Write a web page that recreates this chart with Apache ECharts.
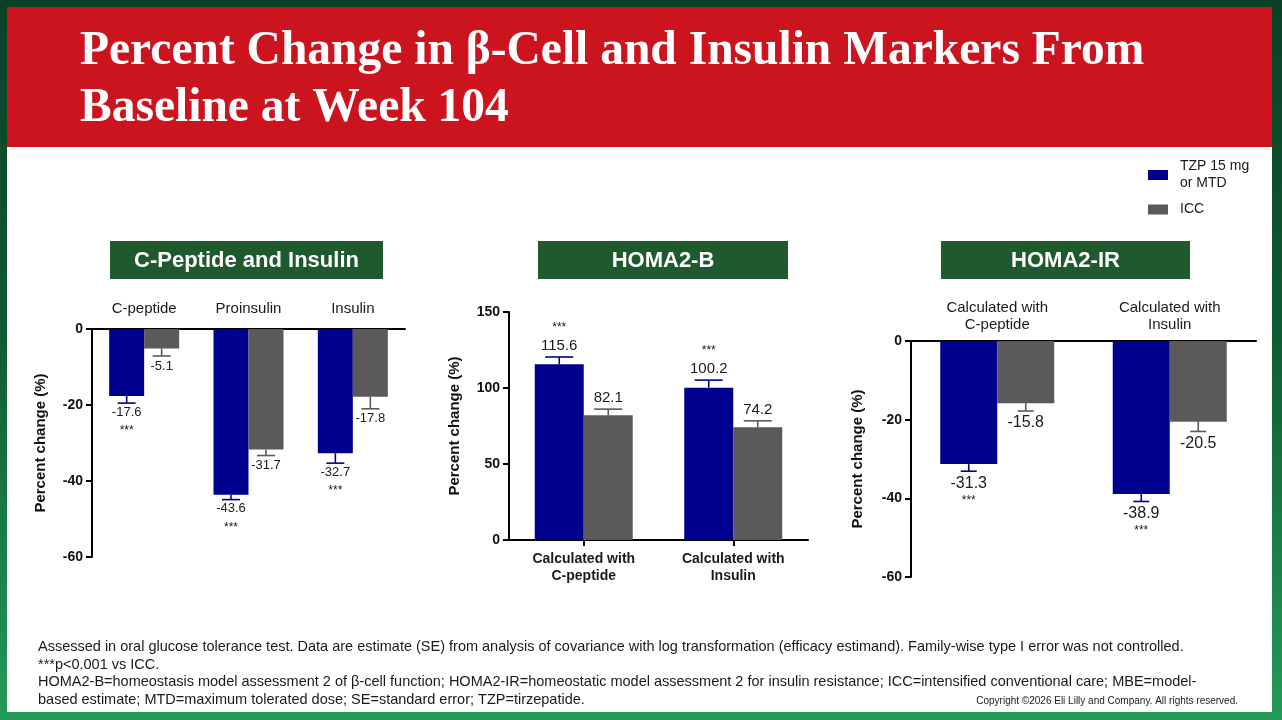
<!DOCTYPE html>
<html>
<head>
<meta charset="utf-8">
<script src="https://cdn.jsdelivr.net/npm/echarts@6/dist/echarts.min.js"></script>
<style>
html,body{margin:0;padding:0;width:1282px;height:720px;overflow:hidden;}
#bg{position:absolute;left:0;top:0;width:1282px;height:720px;background:linear-gradient(180deg,#0a4125 0%,#0f5a32 45%,#259a58 100%);}
#band{position:absolute;left:7px;top:7px;width:1265px;height:140px;background:#cc141f;}
#panel{position:absolute;left:7px;top:147px;width:1265px;height:565px;background:#ffffff;}
#chart{position:absolute;left:0;top:0;width:1282px;height:720px;}
</style>
</head>
<body>
<div id="bg"></div><div id="band"></div><div id="panel"></div>
<div id="chart"></div>
<script>
// ---------------- data ----------------
const seriesNames = ['TZP 15 mg\nor MTD', 'ICC'];

const cpiCategories = ['C-peptide', 'Proinsulin', 'Insulin'];
const cpiTzp = [-17.6, -43.6, -32.7];
const cpiTzpSe = [1.9, 1.3, 2.6];
const cpiIcc = [-5.1, -31.7, -17.8];
const cpiIccSe = [2.0, 1.6, 3.2];
const cpiTzpSig = ['***', '***', '***'];
const cpiIccSig = ['', '', ''];
const cpiTicks = [-60, -40, -20, 0];

const homaBCategories = ['Calculated with\nC-peptide', 'Calculated with\nInsulin'];
const homaBTzp = [115.6, 100.2];
const homaBTzpSe = [4.8, 5.0];
const homaBIcc = [82.1, 74.2];
const homaBIccSe = [4.0, 4.2];
const homaBTzpSig = ['***', '***'];
const homaBIccSig = ['', ''];
const homaBTicks = [0, 50, 100, 150];

const homaIRCategories = ['Calculated with\nC-peptide', 'Calculated with\nInsulin'];
const homaIRTzp = [-31.3, -38.9];
const homaIRTzpSe = [1.8, 1.9];
const homaIRIcc = [-15.8, -20.5];
const homaIRIccSe = [2.0, 2.5];
const homaIRTzpSig = ['***', '***'];
const homaIRIccSig = ['', ''];
const homaIRTicks = [-60, -40, -20, 0];

const panelTitles = ['C-Peptide and Insulin', 'HOMA2-B', 'HOMA2-IR'];
const yAxisName = 'Percent change (%)';
const mainTitle = ['Percent Change in \u03b2-Cell and Insulin Markers From', 'Baseline at Week 104'];
const footnotes = [
  'Assessed in oral glucose tolerance test. Data are estimate (SE) from analysis of covariance with log transformation (efficacy estimand). Family-wise type I error was not controlled.',
  '***p<0.001 vs ICC.',
  'HOMA2-B=homeostasis model assessment 2 of \u03b2-cell function; HOMA2-IR=homeostatic model assessment 2 for insulin resistance; ICC=intensified conventional care; MBE=model-',
  'based estimate; MTD=maximum tolerated dose; SE=standard error; TZP=tirzepatide.'
];
const copyright = 'Copyright \u00a92026 Eli Lilly and Company. All rights reserved.';

// ---------------- styles ----------------
const FONT = 'Liberation Sans, Arial, sans-serif';
const BLUE = '#00008e';
const GRAY = '#5a5a5a';
const GREEN = '#1e5a2e';

const chart = echarts.init(document.getElementById('chart'), null, {renderer: 'canvas'});

function barSeries(name, data, color, idx, bw) {
  return {
    type: 'bar', name: name, data: data, xAxisIndex: idx, yAxisIndex: idx,
    barWidth: bw, barGap: '0%', itemStyle: {color: color}, silent: true, z: 2
  };
}

function errSeries(id, vals, ses, sigs, side, color, idx, bw, cap, fs, gap1, gap2) {
  return {
    type: 'custom', id: id, name: id, xAxisIndex: idx, yAxisIndex: idx, silent: true, z: 3,
    data: vals.map((v, i) => [i, v, ses[i]]),
    renderItem: function (params, api) {
      const i = api.value(0), v = api.value(1), se = api.value(2);
      const end = v + (v < 0 ? -se : se);
      const p0 = api.coord([i, v]);
      const p1 = api.coord([i, end]);
      const x = p0[0] + side * bw / 2;
      const dir = v < 0 ? 1 : -1;
      const sig = sigs[params.dataIndex];
      const children = [
        {type: 'line', shape: {x1: x, y1: p0[1], x2: x, y2: p1[1]}, style: {stroke: color, lineWidth: 1.6}},
        {type: 'line', shape: {x1: x - cap / 2, y1: p1[1], x2: x + cap / 2, y2: p1[1]}, style: {stroke: color, lineWidth: 1.6}},
        {type: 'text', x: x, y: p1[1] + dir * gap1, style: {text: v.toFixed(1), fill: '#1a1a1a', font: fs + 'px ' + FONT, align: 'center', verticalAlign: 'middle'}}
      ];
      if (sig) {
        children.push({type: 'text', x: x, y: p1[1] + dir * gap2, style: {text: sig, fill: '#1a1a1a', font: '12px ' + FONT, align: 'center', verticalAlign: 'middle'}});
      }
      return {type: 'group', children: children};
    }
  };
}

function yAxisDef(idx, ticks, nameGap) {
  return {
    type: 'value', gridIndex: idx, min: ticks[0], max: ticks[ticks.length - 1],
    interval: ticks[1] - ticks[0],
    name: yAxisName, nameLocation: 'middle', nameGap: nameGap,
    nameTextStyle: {fontFamily: FONT, fontWeight: 'bold', fontSize: 15, color: '#111'},
    axisLine: {show: true, lineStyle: {color: '#000', width: 2}},
    axisTick: {show: true, length: 6, lineStyle: {color: '#000', width: 2}},
    axisLabel: {fontFamily: FONT, fontWeight: 'bold', fontSize: 14, color: '#111', margin: 9},
    splitLine: {show: false}
  };
}

const grids = [
  {left: 92, top: 329, width: 313, height: 228},
  {left: 509, top: 312, width: 299, height: 228},
  {left: 911, top: 341, width: 345, height: 236}
];

const xAxes = [
  {type: 'category', gridIndex: 0, data: cpiCategories, position: 'top',
   axisLine: {lineStyle: {color: '#000', width: 2}}, axisTick: {show: false},
   axisLabel: {fontFamily: FONT, fontSize: 15, color: '#1a1a1a', margin: 13}},
  {type: 'category', gridIndex: 1, data: homaBCategories, position: 'bottom',
   axisLine: {lineStyle: {color: '#000', width: 2}},
   axisTick: {show: true, alignWithLabel: true, length: 6, lineStyle: {color: '#000', width: 2}},
   axisLabel: {fontFamily: FONT, fontSize: 14, fontWeight: 'bold', color: '#1a1a1a', lineHeight: 17, margin: 11}},
  {type: 'category', gridIndex: 2, data: homaIRCategories, position: 'top',
   axisLine: {lineStyle: {color: '#000', width: 2}}, axisTick: {show: false},
   axisLabel: {fontFamily: FONT, fontSize: 15, color: '#1a1a1a', lineHeight: 17, margin: 8}}
];

const yAxes = [
  yAxisDef(0, cpiTicks, 44),
  yAxisDef(1, homaBTicks, 47),
  yAxisDef(2, homaIRTicks, 46)
];

const series = [
  barSeries(seriesNames[0], cpiTzp, BLUE, 0, 35),
  barSeries(seriesNames[1], cpiIcc, GRAY, 0, 35),
  errSeries('e1a', cpiTzp, cpiTzpSe, cpiTzpSig, -1, BLUE, 0, 35, 18, 13, 9, 28),
  errSeries('e1b', cpiIcc, cpiIccSe, cpiIccSig, 1, GRAY, 0, 35, 18, 13, 10, 28),

  barSeries(seriesNames[0], homaBTzp, BLUE, 1, 49),
  barSeries(seriesNames[1], homaBIcc, GRAY, 1, 49),
  errSeries('e2a', homaBTzp, homaBTzpSe, homaBTzpSig, -1, BLUE, 1, 49, 28, 15, 11, 29),
  errSeries('e2b', homaBIcc, homaBIccSe, homaBIccSig, 1, GRAY, 1, 49, 28, 15, 11, 29),

  barSeries(seriesNames[0], homaIRTzp, BLUE, 2, 57),
  barSeries(seriesNames[1], homaIRIcc, GRAY, 2, 57),
  errSeries('e3a', homaIRTzp, homaIRTzpSe, homaIRTzpSig, -1, BLUE, 2, 57, 16, 16, 12, 29),
  errSeries('e3b', homaIRIcc, homaIRIccSe, homaIRIccSig, 1, GRAY, 2, 57, 16, 16, 12, 29)
];

const panelBoxes = [
  {x: 110, w: 273},
  {x: 538, w: 250},
  {x: 941, w: 249}
];

const graphics = [];
panelBoxes.forEach((b, i) => {
  graphics.push({type: 'rect', shape: {x: b.x, y: 241, width: b.w, height: 38}, style: {fill: GREEN}, z: 10});
  graphics.push({type: 'text', x: b.x + b.w / 2, y: 261, z: 11,
    style: {text: panelTitles[i], fill: '#ffffff', font: 'bold 22px ' + FONT, align: 'center', verticalAlign: 'middle'}});
});
mainTitle.forEach((t, i) => {
  graphics.push({type: 'text', x: 80, y: 52 + i * 57, z: 11,
    style: {text: t, fill: '#ffffff', font: 'bold 47.5px Liberation Serif, Times New Roman, serif', align: 'left', verticalAlign: 'middle'}});
});
footnotes.forEach((t, i) => {
  graphics.push({type: 'text', x: 38, y: 647 + i * 17.7, z: 11,
    style: {text: t, fill: '#1a1a1a', font: '14.5px ' + FONT, align: 'left', verticalAlign: 'middle'}});
});
graphics.push({type: 'text', x: 1238, y: 701, z: 11,
  style: {text: copyright, fill: '#1a1a1a', font: '10px ' + FONT, align: 'right', verticalAlign: 'middle'}});

chart.setOption({
  backgroundColor: 'transparent',
  animation: false,
  grid: grids,
  xAxis: xAxes,
  yAxis: yAxes,
  legend: {
    data: seriesNames, orient: 'vertical', left: 1148, top: 158, padding: 0,
    itemWidth: 20, itemHeight: 10, itemGap: 9, icon: 'rect',
    selectedMode: false,
    textStyle: {fontFamily: FONT, fontSize: 14, color: '#1a1a1a', lineHeight: 17, padding: [0, 0, 0, 7]}
  },
  graphic: graphics,
  series: series
});
</script>
</body>
</html>
